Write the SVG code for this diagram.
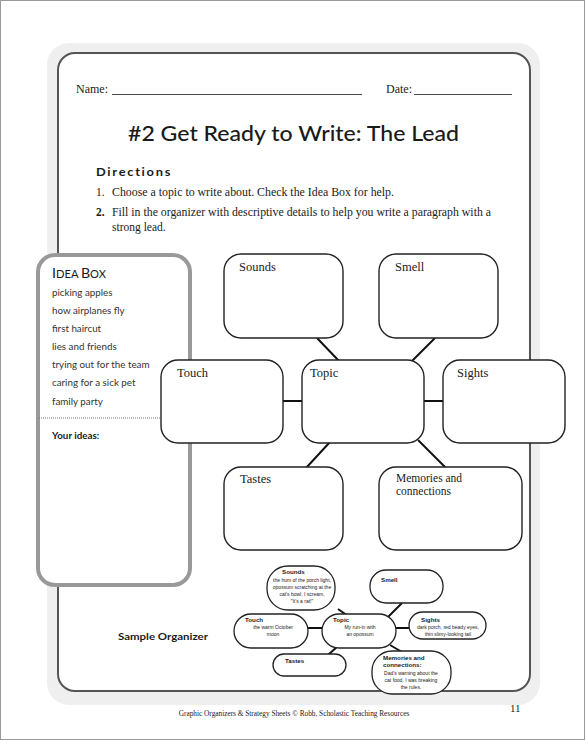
<svg xmlns="http://www.w3.org/2000/svg" width="588" height="745" viewBox="0 0 588 745">
<defs>
<style>
.serif{font-family:"Liberation Serif","Times New Roman",serif;fill:#1a1a1a}
.sans{font-family:"Lato","Liberation Sans",Arial,sans-serif;fill:#1a1a1a}
.comic{font-family:"Liberation Sans",Arial,sans-serif;fill:#1a1a1a}
.box{fill:#fff;stroke:#222;stroke-width:1.4}
.pill{fill:#fff;stroke:#222;stroke-width:1.3}
.conn{stroke:#111;stroke-width:2;fill:none}
.sconn{stroke:#111;stroke-width:2;fill:none}
.lbl{font-size:12.5px}
.idea{font-size:9.8px;fill:#333}
.sl{font-size:6.2px;font-weight:bold}
.st{font-size:5px}
</style>
</defs>
<rect x="0" y="0" width="588" height="745" fill="#fff"/>
<rect x="0.5" y="0.5" width="584" height="739" fill="none" stroke="#999" stroke-width="1"/>
<rect x="47" y="43" width="493" height="662" rx="22" fill="#efefef"/>
<rect x="58" y="53" width="472" height="638" rx="17" fill="#fff" stroke="#555" stroke-width="2"/>

<g id="header">
<text class="serif" x="76" y="93" font-size="12">Name:</text>
<line x1="112" y1="94.5" x2="362" y2="94.5" stroke="#333" stroke-width="0.9"/>
<text class="serif" x="386" y="93" font-size="12">Date:</text>
<line x1="414" y1="94.5" x2="512" y2="94.5" stroke="#333" stroke-width="0.9"/>
<text class="sans" x="128" y="141" font-size="21.5" font-weight="500" textLength="331" lengthAdjust="spacingAndGlyphs">#2 Get Ready to Write: The Lead</text>
<text class="sans" x="96" y="176" font-size="12" font-weight="bold" letter-spacing="1.6" textLength="76" lengthAdjust="spacingAndGlyphs">Directions</text>
<text class="serif" x="96" y="196" font-size="11.5">1.</text>
<text class="serif" x="112" y="196" font-size="11.5" textLength="282" lengthAdjust="spacingAndGlyphs">Choose a topic to write about. Check the Idea Box for help.</text>
<text class="serif" x="96" y="216" font-size="11.5" font-weight="bold">2.</text>
<text class="serif" x="112" y="216" font-size="11.5" textLength="379" lengthAdjust="spacingAndGlyphs">Fill in the organizer with descriptive details to help you write a paragraph with a</text>
<text class="serif" x="112" y="231" font-size="11.5">strong lead.</text>
</g>

<g id="idea-box">
<rect x="38" y="255" width="152" height="330" rx="17" fill="#fff" stroke="#999" stroke-width="4"/>
<text class="sans" x="52" y="278" font-size="11" textLength="54" lengthAdjust="spacingAndGlyphs"><tspan font-size="14">I</tspan>DEA <tspan font-size="14">B</tspan>OX</text>
<text class="sans idea" x="52" y="296">picking apples</text>
<text class="sans idea" x="52" y="314">how airplanes fly</text>
<text class="sans idea" x="52" y="332">first haircut</text>
<text class="sans idea" x="52" y="350">lies and friends</text>
<text class="sans idea" x="52" y="368">trying out for the team</text>
<text class="sans idea" x="52" y="386">caring for a sick pet</text>
<text class="sans idea" x="52" y="405">family party</text>
<line x1="39" y1="418" x2="188" y2="418" stroke="#777" stroke-width="1" stroke-dasharray="1,1"/>
<text class="sans" x="52" y="439" font-size="9.8" font-weight="bold">Your ideas:</text>
</g>

<g id="connectors">
<line class="conn" x1="317" y1="338" x2="339" y2="361"/>
<line class="conn" x1="435" y1="338" x2="412" y2="361"/>
<line class="conn" x1="283" y1="401" x2="302" y2="401"/>
<line class="conn" x1="424" y1="401" x2="443" y2="401"/>
<line class="conn" x1="330" y1="442" x2="306" y2="468"/>
<line class="conn" x1="418" y1="440" x2="446" y2="468"/>
</g>

<g id="sounds"><rect class="box" x="224" y="254" width="119" height="84" rx="17"/><text class="serif lbl" x="239" y="271">Sounds</text></g>
<g id="smell"><rect class="box" x="379" y="254" width="119" height="84" rx="17"/><text class="serif lbl" x="395" y="271">Smell</text></g>
<g id="touch"><rect class="box" x="161" y="360" width="122" height="83" rx="17"/><text class="serif lbl" x="177" y="377">Touch</text></g>
<g id="topic"><rect class="box" x="302" y="360" width="122" height="83" rx="17"/><text class="serif lbl" x="310" y="377">Topic</text></g>
<g id="sights"><rect class="box" x="443" y="360" width="122" height="83" rx="17"/><text class="serif lbl" x="457" y="377">Sights</text></g>
<g id="tastes"><rect class="box" x="224" y="467" width="119" height="83" rx="17"/><text class="serif lbl" x="240" y="483">Tastes</text></g>
<g id="memories"><rect class="box" x="379" y="467" width="143" height="83" rx="17"/><text class="serif" font-size="11.5" x="396" y="482">Memories and</text><text class="serif" font-size="11.5" x="396" y="495">connections</text></g>

<text class="sans" x="118" y="640" font-size="10" font-weight="bold" textLength="90" lengthAdjust="spacingAndGlyphs">Sample Organizer</text>

<g id="sample-connectors">
<line class="sconn" x1="338" y1="609" x2="348" y2="616"/>
<line class="sconn" x1="402" y1="603" x2="388" y2="617"/>
<line class="sconn" x1="308" y1="628" x2="322" y2="628"/>
<line class="sconn" x1="396" y1="628" x2="409" y2="628"/>
<line class="sconn" x1="338" y1="646" x2="328" y2="655"/>
<line class="sconn" x1="390" y1="645" x2="402" y2="652"/>
</g>

<g id="s-sounds"><rect class="pill" x="267" y="566" width="68" height="44" rx="21"/><text class="comic sl" x="282" y="574">Sounds</text>
<text class="comic st" text-anchor="middle" x="302" y="582">the hum of the porch light,</text>
<text class="comic st" text-anchor="middle" x="302" y="589">opossum scratching at the</text>
<text class="comic st" text-anchor="middle" x="302" y="596">cat's bowl, I scream,</text>
<text class="comic st" text-anchor="middle" x="302" y="603">"It's a rat!"</text></g>
<g id="s-smell"><rect class="pill" x="370" y="570" width="73" height="33" rx="16"/><text class="comic sl" x="381" y="582">Smell</text></g>
<g id="s-touch"><rect class="pill" x="234" y="614" width="74" height="34" rx="17"/><text class="comic sl" x="245" y="622">Touch</text>
<text class="comic st" text-anchor="middle" x="273" y="629">the warm October</text>
<text class="comic st" text-anchor="middle" x="273" y="636">moon</text></g>
<g id="s-topic"><rect class="pill" x="322" y="614" width="74" height="34" rx="17"/><text class="comic sl" x="333" y="622">Topic</text>
<text class="comic st" text-anchor="middle" x="360" y="629">My run-in with</text>
<text class="comic st" text-anchor="middle" x="360" y="636">an opossum</text></g>
<g id="s-sights"><rect class="pill" x="409" y="612" width="77" height="27" rx="13.5"/><text class="comic sl" x="421" y="622">Sights</text>
<text class="comic st" text-anchor="middle" x="448" y="629">dark porch, red beady eyes,</text>
<text class="comic st" text-anchor="middle" x="448" y="636">thin slimy-looking tail</text></g>
<g id="s-tastes"><rect class="pill" x="273" y="654" width="73" height="22" rx="11"/><text class="comic sl" x="285" y="663">Tastes</text></g>
<g id="s-memories"><rect class="pill" x="372" y="651" width="79" height="43" rx="20"/><text class="comic sl" x="383" y="660">Memories and</text><text class="comic sl" x="383" y="667">connections:</text>
<text class="comic st" text-anchor="middle" x="411" y="675">Dad's warning about the</text>
<text class="comic st" text-anchor="middle" x="411" y="682">cat food. I was breaking</text>
<text class="comic st" text-anchor="middle" x="411" y="689">the rules.</text></g>

<g id="footer">
<text class="serif" x="294" y="716" font-size="7.3" text-anchor="middle">Graphic Organizers &amp; Strategy Sheets © Robb, Scholastic Teaching Resources</text>
<text class="serif" x="510" y="712" font-size="11">11</text>
</g>
</svg>
